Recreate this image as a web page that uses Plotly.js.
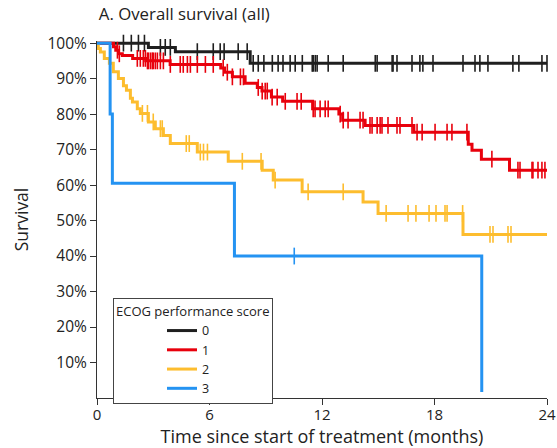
<!DOCTYPE html>
<html>
<head>
<meta charset="utf-8">
<script src="https://cdn.plot.ly/plotly-3.0.1.min.js"></script>
<style>html,body{margin:0;padding:0;background:#fff;}#chart{width:557px;height:448px;}</style>
</head>
<body>
<div id="chart"></div>
<script>
// ---- Data ----
const groupNames = ["0", "1", "2", "3"];
const followUpEnd = 24;

// ECOG 0
const ecog0Times = [0, 2.74, 4.18, 8.17];
const ecog0Surv  = [1.0, 0.988, 0.976, 0.943];
const ecog0Censor = [1.41, 1.83, 2.21, 2.53, 3.38, 3.64, 3.91, 5.35, 6.2, 6.57, 6.78, 7.53, 8.01,
  8.33, 8.6, 8.9, 9.35, 9.66, 9.92, 10.3, 10.57, 10.95, 11.48, 11.53, 11.64, 11.74, 12.33, 13.13,
  14.84, 14.94, 15.74, 15.79, 16.0, 16.8, 17.22, 17.38, 17.92, 19.52, 20.16, 20.42, 20.85, 22.18,
  22.5, 23.73, 24.0];

// ECOG 1
const ecog1Times = [0, 0.88, 1.0, 1.15, 1.35, 1.9, 2.6, 3.9, 6.6, 6.8, 7.22, 7.9, 8.55, 8.8, 9.3, 9.9,
  11.5, 12.9, 13.1, 14.3, 16.9, 19.8, 20.0, 20.5, 22.0];
const ecog1Surv  = [1.0, 0.99, 0.98, 0.97, 0.965, 0.957, 0.95, 0.94, 0.93, 0.918, 0.905, 0.887, 0.875,
  0.865, 0.848, 0.836, 0.815, 0.80, 0.783, 0.768, 0.749, 0.715, 0.698, 0.673, 0.642];
const ecog1Censor = [1.09, 1.19, 2.15, 2.31, 2.47, 2.58, 2.69, 2.74, 2.85, 2.95, 3.0, 3.11, 3.22, 3.38,
  3.54, 3.91, 4.44, 4.6, 4.82, 4.98, 5.35, 5.78, 6.2, 6.73, 6.95, 7.22, 7.65, 7.81, 8.6, 8.81, 8.97,
  9.08, 9.34, 9.61, 10.04, 10.67, 10.89, 11.53, 11.63, 11.9, 12.17, 12.33, 12.97, 13.13, 13.39, 14.03,
  14.19, 14.56, 14.67, 14.94, 15.1, 15.2, 15.52, 16.0, 16.16, 16.8, 17.07, 17.34, 18.03, 18.67, 18.93,
  19.73, 21.06, 22.45, 22.56, 23.2, 23.25, 23.52, 23.73, 23.89];

// ECOG 2
const ecog2Times = [0, 0.07, 0.18, 0.39, 0.66, 0.87, 1.14, 1.41, 1.57, 1.78, 1.89, 2.15, 2.31, 2.74,
  3.11, 3.54, 3.91, 5.35, 7.0, 8.81, 9.4, 10.94, 14.19, 14.99, 19.52];
const ecog2Surv  = [1.0, 0.985, 0.975, 0.957, 0.943, 0.919, 0.90, 0.88, 0.867, 0.845, 0.834, 0.815,
  0.802, 0.778, 0.759, 0.740, 0.717, 0.693, 0.667, 0.642, 0.614, 0.581, 0.552, 0.52, 0.461];
const ecog2Censor = [2.42, 2.69, 3.0, 3.38, 3.48, 4.76, 4.92, 5.51, 5.68, 5.89, 7.75, 8.75, 9.5, 11.26,
  13.13, 15.42, 16.59, 17.01, 17.71, 18.08, 18.56, 18.67, 19.5, 20.96, 21.12, 21.92, 22.08];

// ECOG 3
const ecog3Times = [0, 0.7, 0.82, 7.33, 20.52];
const ecog3Surv  = [1.0, 0.80, 0.605, 0.40, 0.017];
const ecog3Censor = [10.52];

const yTickVals = [0.1, 0.2, 0.3, 0.4, 0.5, 0.6, 0.7, 0.8, 0.9, 1.0];
const yTickText = ["10%", "20%", "30%", "40%", "50%", "60%", "70%", "80%", "90%", "100%"];
const xTickVals = [0, 6, 12, 18, 24];

// ---- Styles ----
const colors = ["#1f1f1f", "#e8000c", "#fdbd2e", "#2493f2"];

function survAt(times, surv, t) {
  let s = surv[0];
  for (let i = 0; i < times.length; i++) { if (times[i] <= t) s = surv[i]; }
  return s;
}

const groups = [
  {t: ecog0Times, s: ecog0Surv, c: ecog0Censor, extend: true},
  {t: ecog1Times, s: ecog1Surv, c: ecog1Censor, extend: true},
  {t: ecog2Times, s: ecog2Surv, c: ecog2Censor, extend: true},
  {t: ecog3Times, s: ecog3Surv, c: ecog3Censor, extend: false}
];

const traces = [];
groups.forEach((g, i) => {
  const xs = g.t.slice(), ys = g.s.slice();
  if (g.extend) { xs.push(followUpEnd); ys.push(g.s[g.s.length - 1]); }
  traces.push({
    type: "scatter", mode: "lines", x: xs, y: ys, name: groupNames[i],
    legendgroup: "g" + i, line: {shape: "hv", color: colors[i], width: 3},
    hoverinfo: "skip"
  });
});
groups.forEach((g, i) => {
  traces.push({
    type: "scatter", mode: "markers", x: g.c, y: g.c.map(t => survAt(g.t, g.s, t)),
    legendgroup: "g" + i, showlegend: false, cliponaxis: false,
    marker: {symbol: "line-ns", size: 12, color: colors[i], line: {color: colors[i], width: 1.6}},
    hoverinfo: "skip"
  });
});

const font = "'Open Sans', 'DejaVu Sans', sans-serif";
const layout = {
  width: 557, height: 448,
  margin: {l: 97, r: 10, t: 41, b: 50},
  paper_bgcolor: "#ffffff", plot_bgcolor: "#ffffff",
  font: {family: font, color: "#222", size: 14},
  title: {text: "A. Overall survival (all)", xref: "paper", x: 0.004, xanchor: "left",
          yref: "container", y: 0.968, yanchor: "middle", font: {size: 16.8, color: "#222", family: font}},
  xaxis: {range: [0, 24], tickvals: xTickVals, ticks: "outside", ticklen: 6, tickcolor: "#333",
          showline: true, linecolor: "#333", linewidth: 1, showgrid: false, zeroline: false,
          tickfont: {size: 15}, ticklabelstandoff: -3,
          title: {text: "Time since start of treatment (months)", font: {size: 18}, standoff: 2}},
  yaxis: {range: [0, 1.006], tickvals: yTickVals, ticktext: yTickText, ticks: "outside", ticklen: 6,
          tickcolor: "#333", showline: true, linecolor: "#333", linewidth: 1, showgrid: false,
          zeroline: false, tickfont: {size: 15.5},
          title: {text: "Survival", font: {size: 17.5}, standoff: 14}},
  legend: {x: 0.0356, y: 0.28, xanchor: "left", yanchor: "top", bgcolor: "#ffffff",
           bordercolor: "#444", borderwidth: 1, font: {size: 12.5}, indentation: 48,
           title: {text: "ECOG performance score", font: {size: 13}}, tracegroupgap: 0},
  showlegend: true
};

Plotly.newPlot("chart", traces, layout, {staticPlot: true, displayModeBar: false});
</script>
</body>
</html>
